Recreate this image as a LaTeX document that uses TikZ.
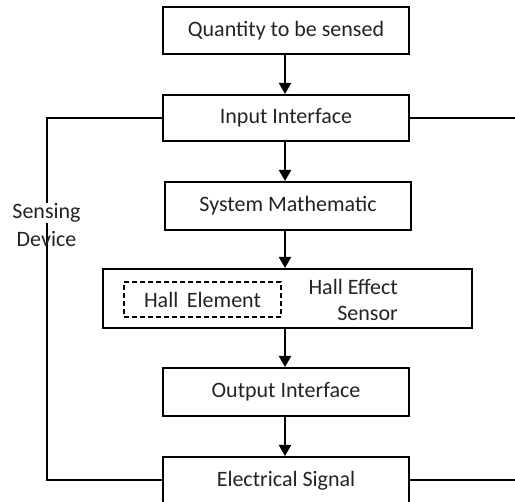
\documentclass[tikz,border=0pt]{standalone}
\usepackage{fontspec}
\setmainfont{Carlito}
\usetikzlibrary{arrows.meta}
\definecolor{txt}{RGB}{35,35,35}
\begin{document}
\begin{tikzpicture}[x=1pt,y=-1pt,
  box/.style={draw=black,line width=2pt,minimum width=246pt,minimum height=47pt,inner sep=0pt,font=\fontsize{22}{26}\selectfont,text=txt},
  conn/.style={line width=2pt},
  arr/.style={conn,-{Triangle[length=11pt,width=12pt]}},
  lbl/.style={font=\fontsize{22}{26}\selectfont,text=txt,inner sep=1pt}]
\useasboundingbox (0,0) rectangle (515,502);
\node[box] (q) at (286,30.5) {Quantity to be sensed};
\node[box,minimum height=46pt] (ii) at (286,118) {Input Interface};
\node[box,minimum height=48pt] (sm) at (288,206) {System Mathematic};
\node[box,minimum width=369pt,minimum height=59pt] (he) at (287.5,298.5) {};
\node[box,dash pattern=on 5pt off 3pt,line width=1.6pt,minimum width=157pt,minimum height=35pt] (hel) at (202.5,299.5) {Hall\, Element};
\node[lbl,align=right,anchor=east] (hes) at (399,300) {Hall Effect\\Sensor};
\node[box,minimum height=48pt] (oi) at (286,392) {Output Interface};
\node[box,minimum height=48pt] (es) at (286,481) {Electrical Signal};
\coordinate (r1) at (516,118);
\coordinate (r2) at (516,480);
\coordinate (l1) at (47,118);
\coordinate (l2) at (47,480);
\draw[conn] (ii.east |- r1) -- (r1);
\draw[conn] (es.east |- r2) -- (r2);
\draw[conn] (ii.west |- l1) -- (l1) -- (l2) -- (es.west |- l2);
\node[lbl,fill=white] (sen) at (46.5,213) {Sensing};
\node[lbl] (dev) at (46.5,239) {Device};
\draw[arr] (q.south -| 285,0) -- (ii.north -| 285,0);
\draw[arr] (ii.south -| 285,0) -- (sm.north -| 285,0);
\draw[arr] (sm.south -| 285,0) -- (he.north -| 285,0);
\draw[arr] (he.south -| 285,0) -- (oi.north -| 285,0);
\draw[arr] (oi.south -| 285,0) -- (es.north -| 285,0);
\end{tikzpicture}
\end{document}
